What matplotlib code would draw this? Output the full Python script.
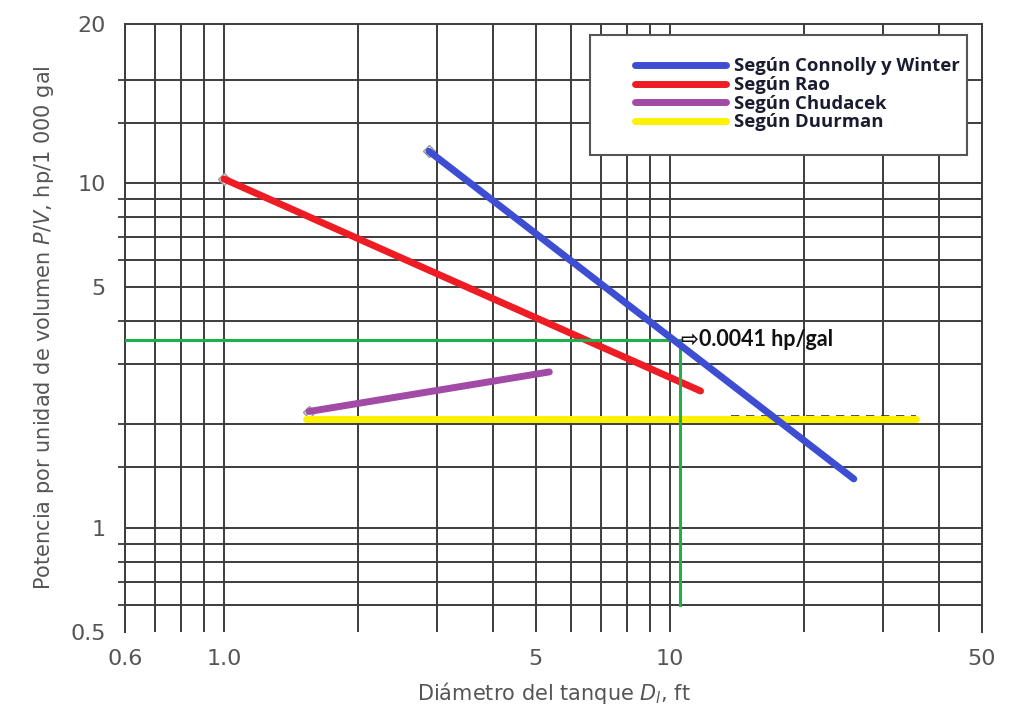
import numpy as np
import matplotlib
matplotlib.use("Agg")
import matplotlib.pyplot as plt
from matplotlib.patches import Rectangle
from matplotlib.lines import Line2D

# --- data (log-log chart) ---
rao_x = [1.0, 11.7]
rao_y = [10.3, 2.5]
connolly_x = [2.88, 25.8]
connolly_y = [12.4, 1.39]
chudacek_x = [1.55, 5.36]
chudacek_y = [2.18, 2.84]
duurman_x = [1.53, 35.5]
duurman_y = [2.07, 2.07]
duurman_dash_x = [13.7, 35.5]
duurman_dash_y = [2.11, 2.11]

# read-off of the design point (green guide lines)
design_d = 10.5
design_pv = 3.52
design_label = "⇨0.0041 hp/gal"

x_grid = [0.6, 0.7, 0.8, 0.9, 1.0, 2, 3, 4, 5, 6, 7, 8, 9, 10, 20, 30, 40, 50]
y_grid = [0.6, 0.7, 0.8, 0.9, 1, 1.5, 2, 3, 4, 5, 6, 7, 8, 9, 10, 15, 20]
x_ticks = [0.6, 1.0, 5, 10, 50]
x_ticklabels = ["0.6", "1.0", "5", "10", "50"]
y_top = 29.0
y_ticks = [0.5, 1, 5, 10, y_top]
y_ticklabels = ["0.5", "1", "5", "10", "20"]

series = [
    ("Según Connolly y Winter", connolly_x, connolly_y, "#3d4ed3"),
    ("Según Rao", rao_x, rao_y, "#ee1d25"),
    ("Según Chudacek", chudacek_x, chudacek_y, "#a14aa6"),
    ("Según Duurman", duurman_x, duurman_y, "#fff200"),
]

GRID = "#3c3c3c"
TXT = "#555555"

fig = plt.figure(figsize=(10.09, 7.04), dpi=100)
ax = fig.add_axes([125 / 1009, 1 - 632 / 704, 857 / 1009, 608 / 704])
ax.set_xscale("log")
ax.set_yscale("log")
ax.set_xlim(0.6, 50)
ax.set_ylim(0.5, y_top)

for xv in x_grid:
    ax.axvline(xv, color=GRID, lw=1.4, zorder=1)
for yv in y_grid:
    ax.axhline(yv, color=GRID, lw=1.4, zorder=1)

for s in ["left", "right", "top"]:
    ax.spines[s].set_color(GRID)
    ax.spines[s].set_linewidth(1.4)
ax.spines["bottom"].set_visible(False)

ax.set_xticks(x_ticks)
ax.set_xticklabels(x_ticklabels)
ax.set_xticks([], minor=True)
ax.set_yticks(y_ticks)
ax.set_yticklabels(y_ticklabels)
ax.set_yticks(y_grid, minor=True)
ax.yaxis.set_minor_formatter(matplotlib.ticker.NullFormatter())
ax.tick_params(axis="x", which="both", length=0, pad=12, labelsize=16, labelcolor=TXT)
ax.tick_params(axis="y", which="major", length=0, pad=14, labelsize=16, labelcolor=TXT)
ax.tick_params(axis="y", which="minor", length=5, width=1.3, color=GRID)

ax.set_xlabel(r"Diámetro del tanque $D_l$, ft", fontsize=15, color=TXT, labelpad=8)
ax.set_ylabel(r"Potencia por unidad de volumen $P/V$, hp/1 000 gal", fontsize=15,
              color=TXT, labelpad=10)

# guide lines
ax.plot([0.6, design_d], [design_pv, design_pv], color="#1faf4b", lw=2.2, zorder=4)
ax.plot([design_d, design_d], [0.6, design_pv], color="#1faf4b", lw=2.2, zorder=4)

ax.plot(duurman_dash_x, duurman_dash_y, color="#333333", lw=1.2, ls=(0, (5, 4)), zorder=2)
zs = {"Según Connolly y Winter": 5, "Según Rao": 3, "Según Chudacek": 3, "Según Duurman": 3}
for name, xs, ys, c in series:
    ax.plot(xs, ys, color=c, lw=5, solid_capstyle="round", zorder=zs[name])
    if name != "Según Duurman":
        ax.plot(xs[0], ys[0], marker="D", ms=6, mfc="white", mec="#999999", mew=1.0,
                zorder=2)

ax.annotate(design_label, xy=(design_d, design_pv), xytext=(1, 0), textcoords="offset points",
            ha="left", va="center", fontsize=15.5, fontweight="bold", color="#111111",
            family=["Lato", "DejaVu Sans"], zorder=6)

# legend box
fig.patches.append(Rectangle((590 / 1009, 1 - 155 / 704), 377 / 1009, 120 / 704,
                             transform=fig.transFigure, facecolor="white",
                             edgecolor="#555555", lw=1.5, zorder=3))
handles = [Line2D([], [], color=c, lw=5, solid_capstyle="round") for _, _, _, c in series]
fig.legend(handles, [s[0] for s in series], loc="upper left",
           bbox_to_anchor=(626 / 1009, 1 - 48 / 704), frameon=False,
           handlelength=4.9, handletextpad=0.45, labelspacing=0.04, borderpad=0,
           prop={"family": "Open Sans", "weight": "bold", "size": 13.3},
           labelcolor="#1c1c30").set_zorder(6)

fig.savefig("out.png", dpi=100)
